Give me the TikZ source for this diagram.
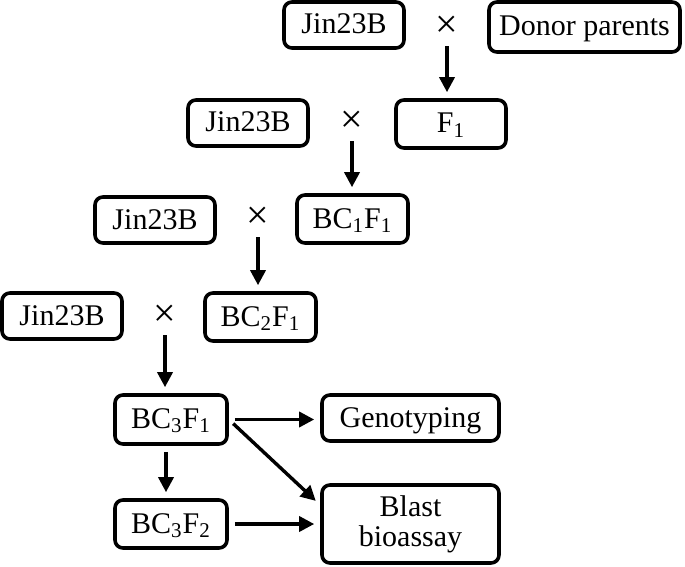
\documentclass[tikz,border=0pt]{standalone}
\usepackage{fontspec}
\setmainfont{Liberation Serif}
\usetikzlibrary{arrows.meta, calc}

\tikzset{
  plant/.style={draw, line width=1.8pt, rounded corners=4pt, inner sep=2pt,
    minimum width=60pt, minimum height=23pt, text height=10pt, text depth=1pt,
    font=\fontsize{15}{17}\selectfont},
  cross/.style={inner sep=1pt, font=\fontsize{20}{20}\selectfont},
  flow/.style={line width=1.7pt, -{Triangle[length=7.5pt,width=7.5pt]},
    shorten >=3pt, shorten <=3pt}
}

\begin{document}
\begin{tikzpicture}[x=0.5pt, y=-0.5pt]
  \useasboundingbox (0,0) rectangle (685,567);

  % Backcross rows
  \node[plant] (jin1) at (344,25) {Jin23B};
  \node[cross] (c1) at (447,27) {×};
  \node[plant, minimum width=95.5pt, minimum height=25pt] (donor) at (584.5,27) {Donor parents};

  \node[plant] (jin2) at (248,123) {Jin23B};
  \node[cross] (c2) at (352,122) {×};
  \node[plant, minimum width=55pt, minimum height=24pt] (f1) at (451,124) {F\textsubscript{1}};

  \node[plant] (jin3) at (155,220) {Jin23B};
  \node[cross] (c3) at (258,218) {×};
  \node[plant, minimum width=55.5pt, minimum height=24pt] (bc11) at (352.5,219) {BC\textsubscript{1}F\textsubscript{1}};

  \node[plant] (jin4) at (62,316) {Jin23B};
  \node[cross] (c4) at (165,316) {×};
  \node[plant, minimum width=55.5pt, minimum height=24pt] (bc21) at (260.5,317) {BC\textsubscript{2}F\textsubscript{1}};

  % Final generations and tests
  \node[plant, minimum width=56pt, minimum height=24.5pt] (bc31) at (171,419.5) {BC\textsubscript{3}F\textsubscript{1}};
  \node[plant, minimum width=56pt, minimum height=24pt] (bc32) at (171,524) {BC\textsubscript{3}F\textsubscript{2}};
  \node[plant, minimum width=88.5pt] (geno) at (410.5,418) {Genotyping};
  \node[plant, minimum width=88.5pt, minimum height=39pt, text height=, text depth=, align=center] (blast) at (410.5,524) {Blast\\[-2pt]bioassay};

  % Arrows
  \draw[flow] (c1.south) -- (c1.south |- f1.north);
  \draw[flow] (c2.south) -- (c2.south |- bc11.north);
  \draw[flow] (c3.south) -- (c3.south |- bc21.north);
  \draw[flow] (c4.south) -- (c4.south |- bc31.north);
  \draw[flow] ([xshift=-2.5pt]bc31.south) -- ([xshift=-2.5pt]bc32.north);
  \draw[flow] (bc31.east) -- (bc31.east -| geno.west);
  \draw[flow] (bc32.east) -- (blast.west);
  \coordinate (hit) at ($(blast.west)+(0,-19)$);
  \draw[flow] (bc31.east) -- (hit);
\end{tikzpicture}
\end{document}
